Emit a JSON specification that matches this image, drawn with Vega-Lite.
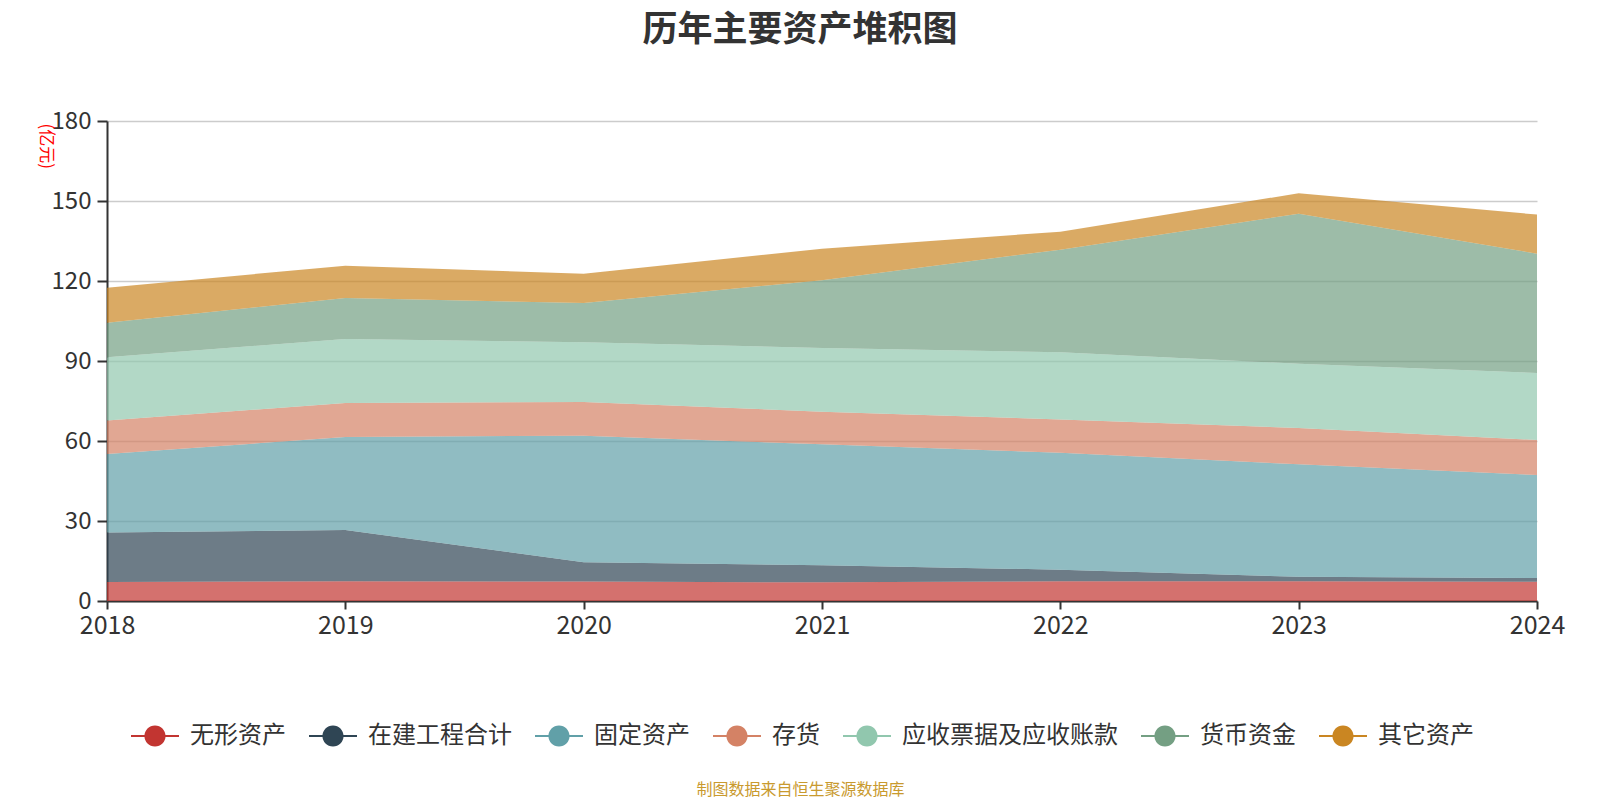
{
  "$schema": "https://vega.github.io/schema/vega-lite/v6.json",
  "background": "white",
  "autosize": {"type": "none"},
  "padding": {"left": 107, "top": 121, "right": 63, "bottom": 199},
  "width": 1430,
  "height": 480,
  "title": {
    "text": "历年主要资产堆积图",
    "anchor": "middle",
    "dx": -22,
    "offset": 26,
    "baseline": "bottom",
    "fontSize": 35,
    "fontWeight": "bold",
    "color": "#333333",
    "font": "Noto Sans CJK SC"
  },
  "data": {
    "values": [
      {"year": 2018, "item": "无形资产", "value": 7.1},
      {"year": 2018, "item": "在建工程合计", "value": 18.6},
      {"year": 2018, "item": "固定资产", "value": 29.4},
      {"year": 2018, "item": "存货", "value": 12.6},
      {"year": 2018, "item": "应收票据及应收账款", "value": 23.7},
      {"year": 2018, "item": "货币资金", "value": 12.9},
      {"year": 2018, "item": "其它资产", "value": 13.2},
      {"year": 2019, "item": "无形资产", "value": 7.4},
      {"year": 2019, "item": "在建工程合计", "value": 19.2},
      {"year": 2019, "item": "固定资产", "value": 34.9},
      {"year": 2019, "item": "存货", "value": 12.75},
      {"year": 2019, "item": "应收票据及应收账款", "value": 24.0},
      {"year": 2019, "item": "货币资金", "value": 15.35},
      {"year": 2019, "item": "其它资产", "value": 12.15},
      {"year": 2020, "item": "无形资产", "value": 7.3},
      {"year": 2020, "item": "在建工程合计", "value": 7.2},
      {"year": 2020, "item": "固定资产", "value": 47.5},
      {"year": 2020, "item": "存货", "value": 12.6},
      {"year": 2020, "item": "应收票据及应收账款", "value": 22.4},
      {"year": 2020, "item": "货币资金", "value": 14.75},
      {"year": 2020, "item": "其它资产", "value": 11.0},
      {"year": 2021, "item": "无形资产", "value": 7.0},
      {"year": 2021, "item": "在建工程合计", "value": 6.4},
      {"year": 2021, "item": "固定资产", "value": 45.35},
      {"year": 2021, "item": "存货", "value": 12.25},
      {"year": 2021, "item": "应收票据及应收账款", "value": 23.9},
      {"year": 2021, "item": "货币资金", "value": 25.35},
      {"year": 2021, "item": "其它资产", "value": 11.85},
      {"year": 2022, "item": "无形资产", "value": 7.4},
      {"year": 2022, "item": "在建工程合计", "value": 4.35},
      {"year": 2022, "item": "固定资产", "value": 43.85},
      {"year": 2022, "item": "存货", "value": 12.5},
      {"year": 2022, "item": "应收票据及应收账款", "value": 25.15},
      {"year": 2022, "item": "货币资金", "value": 38.5},
      {"year": 2022, "item": "其它资产", "value": 6.75},
      {"year": 2023, "item": "无形资产", "value": 7.4},
      {"year": 2023, "item": "在建工程合计", "value": 1.7},
      {"year": 2023, "item": "固定资产", "value": 42.15},
      {"year": 2023, "item": "存货", "value": 13.65},
      {"year": 2023, "item": "应收票据及应收账款", "value": 24.1},
      {"year": 2023, "item": "货币资金", "value": 56.25},
      {"year": 2023, "item": "其它资产", "value": 7.65},
      {"year": 2024, "item": "无形资产", "value": 7.25},
      {"year": 2024, "item": "在建工程合计", "value": 1.35},
      {"year": 2024, "item": "固定资产", "value": 38.65},
      {"year": 2024, "item": "存货", "value": 13.15},
      {"year": 2024, "item": "应收票据及应收账款", "value": 25.1},
      {"year": 2024, "item": "货币资金", "value": 44.75},
      {"year": 2024, "item": "其它资产", "value": 14.65}
    ]
  },
  "transform": [
    {"calculate": "indexof(['无形资产','在建工程合计','固定资产','存货','应收票据及应收账款','货币资金','其它资产'], datum.item)", "as": "seq"}
  ],
  "mark": {"type": "area", "opacity": 0.7, "interpolate": "linear"},
  "encoding": {
    "x": {
      "field": "year",
      "type": "quantitative",
      "scale": {"domain": [2018, 2024], "nice": false, "zero": false},
      "axis": {
        "values": [2018, 2019, 2020, 2021, 2022, 2023, 2024],
        "format": "d",
        "grid": false,
        "labelFlush": false,
        "labelBound": false,
        "labelOverlap": false,
        "domainColor": "#333333",
        "domainWidth": 2,
        "tickColor": "#333333",
        "tickWidth": 2,
        "tickSize": 8,
        "labelFontSize": 25,
        "labelColor": "#333333",
        "labelPadding": 4,
        "labelFont": "Noto Sans CJK SC",
        "title": "制图数据来自恒生聚源数据库",
        "titleFont": "Noto Sans CJK SC",
        "titleFontSize": 16,
        "titleFontWeight": "normal",
        "titleColor": "#c99a2e",
        "titleX": 693,
        "titleY": 188,
        "titleAlign": "center",
        "titleBaseline": "middle",
        "titleAnchor": null
      }
    },
    "y": {
      "field": "value",
      "type": "quantitative",
      "stack": "zero",
      "scale": {"domain": [0, 180], "nice": false},
      "axis": {
        "values": [0, 30, 60, 90, 120, 150, 180],
        "grid": true,
        "gridColor": "#cccccc",
        "gridWidth": 1.5,
        "domainColor": "#333333",
        "domainWidth": 2,
        "tickColor": "#333333",
        "tickWidth": 2,
        "tickSize": 10,
        "labelFontSize": 24,
        "labelColor": "#333333",
        "labelPadding": 6,
        "labelFont": "Noto Sans CJK SC",
        "title": "(亿元)",
        "titleFont": "Noto Sans CJK SC",
        "titleFontSize": 17,
        "titleFontWeight": "normal",
        "titleColor": "#ff0000",
        "titleAngle": 90,
        "titleX": -62,
        "titleY": 2,
        "titleAlign": "left",
        "titleBaseline": "middle"
      }
    },
    "color": {
      "field": "item",
      "type": "nominal",
      "scale": {
        "domain": ["无形资产", "在建工程合计", "固定资产", "存货", "应收票据及应收账款", "货币资金", "其它资产"],
        "range": ["#c23531", "#2f4554", "#61a0a8", "#d48265", "#91c7ae", "#749f83", "#ca8622"]
      },
      "legend": {
        "title": null,
        "orient": "none",
        "direction": "horizontal",
        "legendX": 24,
        "legendY": 591,
        "symbolType": "M-1,-0.045L1,-0.045L1,0.045L-1,0.045Z M0.44,0 A0.44,0.44 0 1,1 -0.44,0 A0.44,0.44 0 1,1 0.44,0 Z",
        "symbolSize": 2304,
        "symbolOpacity": 1,
        "symbolStrokeWidth": 0,
        "labelFontSize": 24,
        "labelLimit": 400,
        "labelFont": "Noto Sans CJK SC",
        "labelColor": "#333333",
        "labelOffset": 11,
        "columnPadding": 23
      }
    },
    "order": {"field": "seq", "type": "quantitative"}
  },
  "config": {
    "view": {"stroke": null}
  }
}
